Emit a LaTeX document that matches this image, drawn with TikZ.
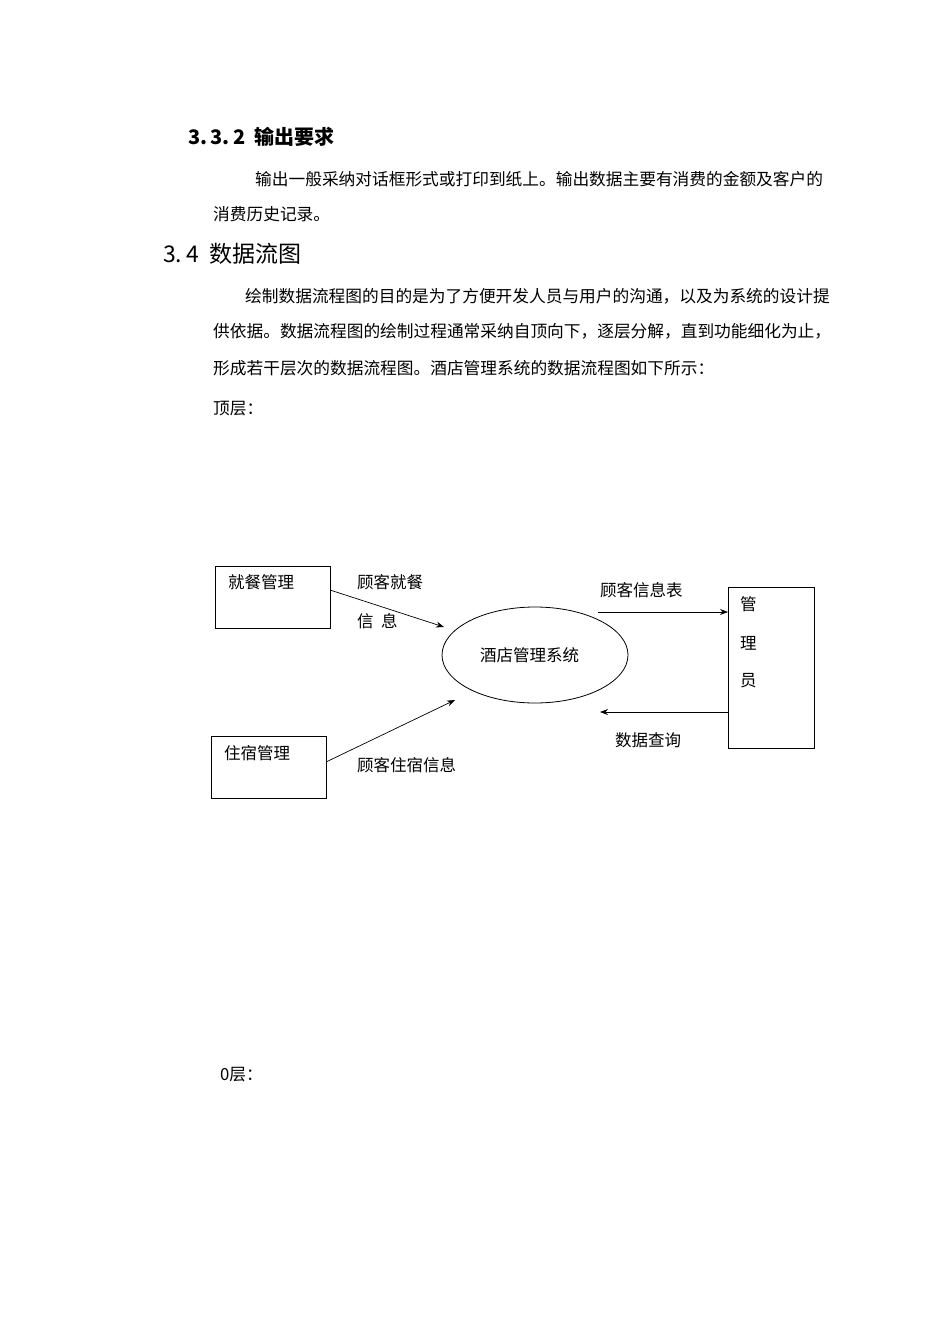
\documentclass[tikz,border=0pt]{standalone}
\usepackage{fontspec}
\setmainfont{Noto Sans CJK SC}
\usetikzlibrary{arrows.meta,shapes.geometric}
\begin{document}
\begin{tikzpicture}[x=1pt,y=-1pt,
  txt/.style={anchor=west,inner sep=0pt,font=\fontsize{16.7}{16.7}\selectfont},
  dtxt/.style={anchor=west,inner sep=0pt,font=\fontsize{16.5}{16.5}\selectfont},
  box/.style={draw,line width=0.8pt},
  flow/.style={-{Stealth[length=8pt,width=6pt]},line width=0.7pt}]
\useasboundingbox[fill=white] (0,0) rectangle (950,1344);
\node[anchor=west,inner sep=0pt,font=\fontsize{20}{20}\selectfont\bfseries] (h1) at (188,137) {3.\,3.\,2\ \ 输出要求};
\node[txt] (p1) at (255,179) {输出一般采纳对话框形式或打印到纸上。输出数据主要有消费的金额及客户的};
\node[txt] (p2) at (213,214) {消费历史记录。};
\node[anchor=west,inner sep=0pt,font=\fontsize{23}{23}\selectfont] (h2) at (163,254) {3.\,4\ \ 数据流图};
\node[txt] (q1) at (245,296) {绘制数据流程图的目的是为了方便开发人员与用户的沟通，以及为系统的设计提};
\node[txt] (q2) at (213,331) {供依据。数据流程图的绘制过程通常采纳自顶向下，逐层分解，直到功能细化为止，};
\node[txt] (q3) at (213,368) {形成若干层次的数据流程图。酒店管理系统的数据流程图如下所示：};
\node[txt] (top) at (213,409) {顶层：};
\node[txt] (zero) at (220,1075) {0层：};

\draw[box] (215,566) rectangle (330,628);
\node[dtxt] (a) at (228,582) {就餐管理};
\draw[box] (211,736) rectangle (326,798);
\node[dtxt] (b) at (224,753) {住宿管理};
\draw[box] (728,587) rectangle (814,748);
\node[dtxt] at (740,604) {管};
\node[dtxt] at (740,643) {理};
\node[dtxt] at (740,681) {员};
\node[draw,line width=0.8pt,ellipse,inner sep=0pt,minimum width=186pt,minimum height=96pt] (sys) at (535,655) {};
\node[dtxt] at (480,655) {酒店管理系统};

\coordinate (a1) at (330,590); \coordinate (a2) at (444,627);
\coordinate (b1) at (326,762); \coordinate (b2) at (455,700);
\coordinate (c1) at (598,612); \coordinate (c2) at (728,612);
\coordinate (d1) at (728,712); \coordinate (d2) at (600,712);
\draw[flow] (a1) -- (a2);
\draw[flow] (b1) -- (b2);
\draw[flow] (c1) -- (c2);
\draw[flow] (d1) -- (d2);

\node[dtxt] at (357,582) {顾客就餐};
\node[dtxt] at (357,621) {信\ \ 息};
\node[dtxt] at (357,765) {顾客住宿信息};
\node[dtxt] at (600,590) {顾客信息表};
\node[dtxt] at (615,740) {数据查询};
\end{tikzpicture}
\end{document}
